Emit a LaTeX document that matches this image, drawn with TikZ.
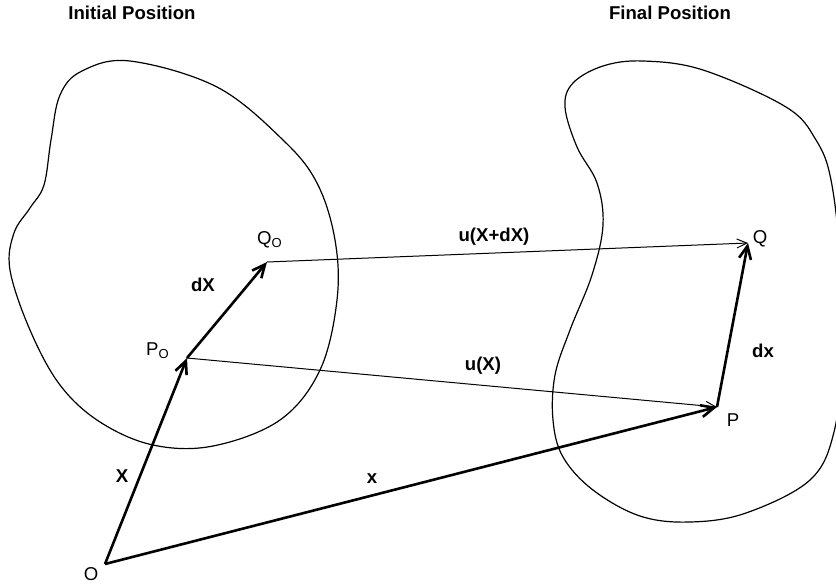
\documentclass[tikz,border=0pt]{standalone}
\usepackage{fontspec}
\setmainfont{Liberation Sans}
\usetikzlibrary{arrows.meta}

\tikzset{
  bodyline/.style={line width=0.6pt, black, line join=round},
  vecthick/.style={-{Straight Barb[length=6.5pt, width=6pt]}, line width=1.3pt},
  vecthin/.style={-{Straight Barb[length=5pt, width=4.5pt]}, line width=0.5pt},
  veclabel/.style={font=\fontsize{9.3}{11}\selectfont\bfseries, inner sep=0pt},
  ptlabel/.style={font=\fontsize{9.3}{11}\selectfont, inner sep=0pt},
  titlelabel/.style={font=\fontsize{9.3}{11}\selectfont\bfseries, inner sep=0pt},
}

\begin{document}
\begin{tikzpicture}[x=0.5pt, y=-0.5pt]
\useasboundingbox (0,0) rectangle (836,585);

% Titles
\node[titlelabel] (tinit) at (132,13) {Initial Position};
\node[titlelabel] (tfinal) at (670,13) {Final Position};

% Body in initial position
\draw[bodyline] plot[smooth cycle, tension=0.6] coordinates {
  (130,61) (217,87) (283,140) (317,183) (335,240) (337,300) (320,370)
  (280,420) (213,446) (153,445) (100,422) (60,385) (30,330) (10,270)
  (14,233) (30,208) (44,185) (51,140) (60,95) (82,71)};

% Body in final position
\draw[bodyline] plot[smooth cycle, tension=0.6] coordinates {
  (643,61) (703,70) (786,107) (816,140) (831,180) (840,260) (841,360)
  (834,432) (810,480) (746,513) (690,522) (640,516) (593,490) (563,457)
  (553,420) (555,375) (570,330) (592,275) (603,225) (597,183) (577,147)
  (565,107) (573,83) (603,66)};

% Points
\coordinate (O) at (105,564);
\coordinate (Po) at (187,358);
\coordinate (Qo) at (267,262);
\coordinate (P) at (717,407);
\coordinate (Q) at (748,243);

% Position and displacement vectors
\draw[vecthick] (O) -- (Po);
\draw[vecthick] (Po) -- (Qo);
\draw[vecthick] (O) -- (P);
\draw[vecthick] (P) -- (Q);
\draw[vecthin] (Po) -- (P);
\draw[vecthin] (Qo) -- (Q);

% Labels
\node[ptlabel] (lO) at (91,574) {O};
\node[ptlabel] (lPo) at (158,351) {P\textsubscript{O}};
\node[ptlabel] (lQo) at (270,240) {Q\textsubscript{O}};
\node[ptlabel] (lP) at (733,420) {P};
\node[ptlabel] (lQ) at (760,239) {Q};
\node[veclabel] (lX) at (122,476) {X};
\node[veclabel] (lx) at (372,479) {x};
\node[veclabel] (ldX) at (203,285) {dX};
\node[veclabel] (ldx) at (763,351) {dx};
\node[veclabel] (luXdX) at (494,237) {u(X+dX)};
\node[veclabel] (luX) at (483,366) {u(X)};

\end{tikzpicture}
\end{document}
